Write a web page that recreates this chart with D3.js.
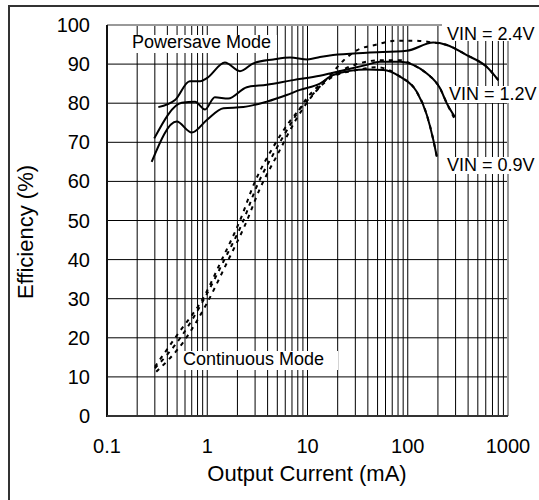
<!DOCTYPE html>
<html>
<head>
<meta charset="utf-8">
<script src="https://cdn.jsdelivr.net/npm/d3@7"></script>
<style>
  body { margin: 0; background: #fff; }
  svg { display: block; font-family: "Liberation Sans", Arial, sans-serif; }
</style>
</head>
<body>
<svg id="chart" width="539" height="500"></svg>
<script>
// tick values
let xTicks = [0.1, 1, 10, 100, 1000];
let yTicks = [0, 10, 20, 30, 40, 50, 60, 70, 80, 90, 100];

// powersave mode (solid), [mA, %]
let save24 = [[0.325,79],[0.477,80.8],[0.67,85.6],[0.85,85.6],[0.99,86.4],[1.5,90.4],[2.12,88.2],[2.88,90.2],[4.56,91.2],[6.7,91.7],[10,91.2],[13.3,91.8],[18,92.3],[39,92.9],[97.6,93.4],[180,95.5],[245,94.9],[387,92.3],[612,89.3],[800,85.9]];
let save12 = [[0.296,71],[0.556,80.1],[0.755,80.4],[0.95,78.4],[1.19,81.5],[1.62,81.2],[2.48,84.1],[3.92,84.7],[7.2,85.9],[13.3,87],[18,87.8],[39,89.8],[52.8,90.6],[83.6,90.6],[113,89.8],[155,87.6],[210,83.8],[245,80],[295,76.5]];
let save09 = [[0.279,65],[0.496,75.3],[0.70,72.5],[0.99,75.7],[1.45,78.7],[2.29,79],[3.92,80.4],[6.2,82.1],[8.4,83.4],[13.3,85],[18,87.2],[39,88.6],[57,88.5],[83.6,86.8],[123,82.9],[155,77],[180,70.6],[195,66.3]];

// continuous mode (dashed)
let cont24 = [[0.30,12.6],[0.51,21],[0.95,31],[1.34,39],[2.12,50],[3.0,60],[4.6,69],[6.5,75],[9.8,80.5],[13,84],[18,88],[23,91],[31,93.5],[49,95],[78,96],[113,96],[180,95.5],[245,94.9],[387,92.3],[612,89.3],[800,85.9]];
let cont12 = [[0.30,12.2],[0.54,20],[0.92,29.7],[1.45,39.5],[2.25,49.5],[3.15,59],[4.8,68],[7.1,75.5],[9.8,81.2],[13,84.5],[18,87.2],[33,90.2],[53,91],[84,91],[113,89.8],[155,87.6],[210,83.8],[245,80],[300,75.5]];
let cont09 = [[0.31,11.3],[0.58,19],[0.99,28.8],[1.62,39.9],[2.38,48.8],[3.36,58.2],[5.1,67.2],[7.8,76.1],[9.8,80],[18,86.8],[33,88.6],[49,89.2],[84,86.8],[123,82.9],[155,77],[180,70.6],[195,66.3]];

let svg = d3.select("#chart");
let x = d3.scaleLog().domain([0.1, 1000]).range([107, 508]);
let y = d3.scaleLinear().domain([0, 100]).range([416, 25]);

// outer frame (runs off the picture on the right and bottom)
svg.append("rect")
  .attr("x", 9).attr("y", 6).attr("width", 560).attr("height", 520)
  .attr("fill", "none").attr("stroke", "#333").attr("stroke-width", 2);

// grid
let minor = [];
[0.1, 1, 10, 100].forEach((d) => {
  for (let k = 2; k <= 10; k++) minor.push(d * k);
});
svg.append("g")
  .selectAll("line")
  .data(minor)
  .join("line")
  .attr("x1", (d) => x(d)).attr("x2", (d) => x(d))
  .attr("y1", y(100)).attr("y2", y(0))
  .attr("stroke", "#000").attr("stroke-width", 1);
svg.append("g")
  .selectAll("line")
  .data(yTicks.slice(1, -1))
  .join("line")
  .attr("x1", x(0.1)).attr("x2", x(1000))
  .attr("y1", (d) => y(d)).attr("y2", (d) => y(d))
  .attr("stroke", "#000").attr("stroke-width", 1);

// plot border
svg.append("line").attr("x1", x(0.1)).attr("x2", x(1000)).attr("y1", y(100)).attr("y2", y(100))
  .attr("stroke", "#999").attr("stroke-width", 2);
svg.append("line").attr("x1", x(1000)).attr("x2", x(1000)).attr("y1", y(100)).attr("y2", y(0))
  .attr("stroke", "#999").attr("stroke-width", 2);
svg.append("line").attr("x1", x(0.1)).attr("x2", x(0.1)).attr("y1", y(100)).attr("y2", y(0) + 1)
  .attr("stroke", "#111").attr("stroke-width", 2);
svg.append("line").attr("x1", x(0.1)).attr("x2", x(1000)).attr("y1", y(0)).attr("y2", y(0))
  .attr("stroke", "#333").attr("stroke-width", 2);

// white boxes behind labels
let boxes = [[130, 35, 147, 18], [442, 23, 97, 18], [446, 86, 93, 17], [440, 157, 99, 17], [181, 351, 157, 19]];
svg.append("g")
  .selectAll("rect")
  .data(boxes)
  .join("rect")
  .attr("x", (d) => d[0]).attr("y", (d) => d[1])
  .attr("width", (d) => d[2]).attr("height", (d) => d[3])
  .attr("fill", "#fff");

let line = d3.line()
  .x((d) => x(d[0]))
  .y((d) => y(d[1]))
  .curve(d3.curveMonotoneX);

svg.append("g")
  .selectAll("path")
  .data([save24, save12, save09])
  .join("path")
  .attr("d", line)
  .attr("fill", "none")
  .attr("stroke", "#000")
  .attr("stroke-width", 2);

svg.append("g")
  .selectAll("path")
  .data([cont24, cont12, cont09])
  .join("path")
  .attr("d", line)
  .attr("fill", "none")
  .attr("stroke", "#000")
  .attr("stroke-width", 2)
  .attr("stroke-dasharray", "4,5");

// tick labels
svg.append("g")
  .selectAll("text")
  .data(yTicks)
  .join("text")
  .attr("x", 90)
  .attr("y", (d) => y(d) + 7)
  .attr("text-anchor", "end")
  .attr("font-size", 20)
  .text((d) => d);
svg.append("g")
  .selectAll("text")
  .data(xTicks)
  .join("text")
  .attr("x", (d) => x(d))
  .attr("y", 453)
  .attr("text-anchor", "middle")
  .attr("font-size", 20)
  .text((d) => d);

// axis titles
svg.append("text")
  .attr("x", 307).attr("y", 481)
  .attr("text-anchor", "middle")
  .attr("font-size", 22)
  .text("Output Current (mA)");
svg.append("text")
  .attr("transform", "translate(33,232) rotate(-90)")
  .attr("text-anchor", "middle")
  .attr("font-size", 22)
  .text("Efficiency (%)");

// annotations
let notes = [["Powersave Mode", 132, 48], ["VIN = 2.4V", 447, 40], ["VIN = 1.2V", 449, 100], ["VIN = 0.9V", 447, 171], ["Continuous Mode", 183, 365]];
svg.append("g")
  .selectAll("text")
  .data(notes)
  .join("text")
  .attr("x", (d) => d[1])
  .attr("y", (d) => d[2])
  .attr("font-size", 18)
  .text((d) => d[0]);
</script>
</body>
</html>
